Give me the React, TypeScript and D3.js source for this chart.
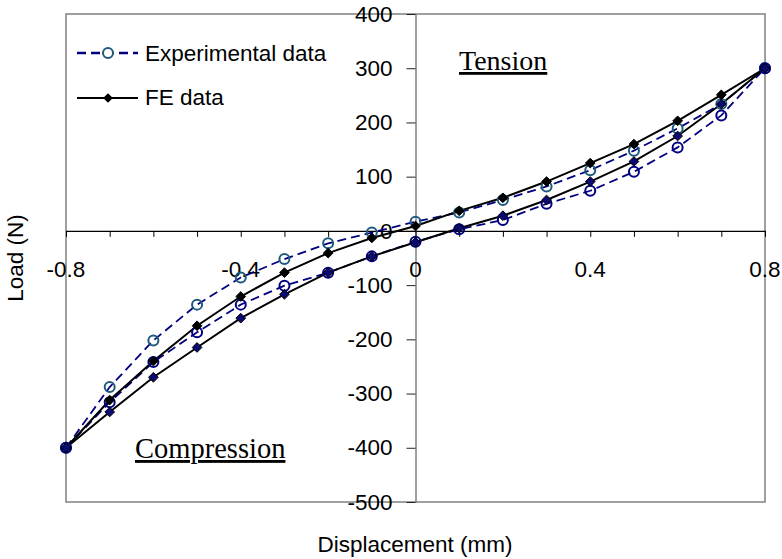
import * as d3 from "d3";
import React, { useRef, useEffect } from "react";

const W = 782;
const H = 559;

// displacement steps (mm)
const disp = [-0.8, -0.7, -0.6, -0.5, -0.4, -0.3, -0.2, -0.1, 0, 0.1, 0.2, 0.3, 0.4, 0.5, 0.6, 0.7, 0.8];

// experimental loop: lower (loading) and upper (unloading) branch, load in N
const expLower = [-400, -316, -242, -187, -136, -101, -77, -47, -20, 3, 20, 50, 74, 109, 154, 213, 300];
const expUpper = [-400, -288, -202, -136, -86, -52, -23, -3, 17, 34, 57, 82, 112, 148, 189, 234, 300];

// FE loop
const feLower = [-400, -334, -270, -215, -161, -117, -77, -47, -21, 5, 28, 57, 91, 128, 175, 234, 300];
const feUpper = [-400, -312, -240, -175, -121, -77, -41, -13, 9, 37, 61, 91, 125, 160, 203, 251, 300];

const xTickLabels = ["-0.8", "-0.4", "0", "0.4", "0.8"];
const yTicks = [-500, -400, -300, -200, -100, 0, 100, 200, 300, 400];

const sans = "'Liberation Sans', Arial, sans-serif";
const serif = "'Liberation Serif', 'Times New Roman', serif";

const navy = "#000080";
const teal = "#1d5a7c";

function App() {
  const ref = useRef(null);

  useEffect(() => {
    const svg = d3.select(ref.current);
    svg.selectAll("*").remove();

    const x = d3.scaleLinear().domain([-0.8, 0.8]).range([66, 765]);
    const y = d3.scaleLinear().domain([-500, 400]).range([502, 14]);

    // plot frame
    svg
      .append("rect")
      .attr("x", x(-0.8))
      .attr("y", y(400))
      .attr("width", x(0.8) - x(-0.8))
      .attr("height", y(-500) - y(400))
      .attr("fill", "none")
      .attr("stroke", "#808080")
      .attr("stroke-width", 1.5);

    // y axis through x = 0
    const yAxis = svg
      .append("g")
      .attr("transform", `translate(${x(0)},0)`)
      .call(
        d3
          .axisLeft(y)
          .tickValues(yTicks)
          .tickSize(9)
          .tickSizeOuter(0)
          .tickPadding(14)
          .tickFormat((d) => String(d))
      );
    yAxis.select(".domain").attr("stroke", "#808080").attr("stroke-width", 1.5);
    yAxis.selectAll("line").attr("stroke", "#222");
    yAxis.selectAll("text").style("font-family", sans).style("font-size", "22.5px").attr("fill", "#000");

    // x axis through y = 0
    const xAxis = svg
      .append("g")
      .attr("transform", `translate(0,${y(0)})`)
      .call(d3.axisBottom(x).tickValues(disp).tickSize(6).tickSizeOuter(0).tickFormat(() => ""));
    xAxis.select(".domain").attr("stroke", "#000").attr("stroke-width", 1.2);
    xAxis.selectAll("line").attr("stroke", "#000");

    svg
      .selectAll(".xlab")
      .data(xTickLabels)
      .enter()
      .append("text")
      .attr("x", (d) => x(+d))
      .attr("y", 277)
      .attr("text-anchor", "middle")
      .style("font-family", sans)
      .style("font-size", "22.5px")
      .text((d) => d);

    const pts = (vals) => disp.map((d, i) => [d, vals[i]]);
    const line = d3
      .line()
      .x((d) => x(d[0]))
      .y((d) => y(d[1]));
    const diamond = d3.symbol(d3.symbolDiamond2 || d3.symbolDiamond, 60);

    const series = [
      { vals: expUpper, dashed: true, marker: "circle", color: teal },
      { vals: expLower, dashed: true, marker: "circle", color: navy },
      { vals: feUpper, dashed: false, marker: "diamond", color: "#000" },
      { vals: feLower, dashed: false, marker: "diamond", color: "#0a0a70" },
    ];

    series.forEach((s) => {
      svg
        .append("path")
        .attr("d", line(pts(s.vals)))
        .attr("fill", "none")
        .attr("stroke", s.dashed ? navy : "#000")
        .attr("stroke-width", s.dashed ? 1.8 : 2)
        .attr("stroke-dasharray", s.dashed ? "9,5" : null);
    });

    series.forEach((s) => {
      const g = svg.append("g");
      if (s.marker === "circle") {
        g.selectAll("circle")
          .data(pts(s.vals))
          .enter()
          .append("circle")
          .attr("cx", (d) => x(d[0]))
          .attr("cy", (d) => y(d[1]))
          .attr("r", 5)
          .attr("fill", "none")
          .attr("stroke", s.color)
          .attr("stroke-width", 2);
      } else {
        g.selectAll("path")
          .data(pts(s.vals))
          .enter()
          .append("path")
          .attr("d", diamond)
          .attr("transform", (d) => `translate(${x(d[0])},${y(d[1])})`)
          .attr("fill", s.color)
          .attr("stroke", "#000")
          .attr("stroke-width", 1);
      }
    });

    // legend
    const leg = svg.append("g");
    leg
      .append("line")
      .attr("x1", 77)
      .attr("x2", 138)
      .attr("y1", 53)
      .attr("y2", 53)
      .attr("stroke", navy)
      .attr("stroke-width", 2.5)
      .attr("stroke-dasharray", "9,5");
    leg
      .append("circle")
      .attr("cx", 108)
      .attr("cy", 53)
      .attr("r", 5)
      .attr("fill", "#fff")
      .attr("stroke", teal)
      .attr("stroke-width", 2);
    leg
      .append("text")
      .attr("x", 145)
      .attr("y", 61)
      .style("font-family", sans)
      .style("font-size", "22.5px")
      .text("Experimental data");
    leg
      .append("line")
      .attr("x1", 77)
      .attr("x2", 138)
      .attr("y1", 98)
      .attr("y2", 98)
      .attr("stroke", "#000")
      .attr("stroke-width", 2);
    leg
      .append("path")
      .attr("d", diamond)
      .attr("transform", "translate(108,98)")
      .attr("fill", "#000");
    leg
      .append("text")
      .attr("x", 145)
      .attr("y", 105)
      .style("font-family", sans)
      .style("font-size", "22.5px")
      .text("FE data");

    // region annotations
    svg
      .append("text")
      .attr("x", 459)
      .attr("y", 70)
      .style("font-family", serif)
      .style("font-size", "28px")
      .style("text-decoration", "underline")
      .text("Tension");
    svg
      .append("text")
      .attr("x", 135)
      .attr("y", 458)
      .style("font-family", serif)
      .style("font-size", "28.5px")
      .style("text-decoration", "underline")
      .text("Compression");

    // axis titles
    svg
      .append("text")
      .attr("x", 415)
      .attr("y", 552)
      .attr("text-anchor", "middle")
      .style("font-family", sans)
      .style("font-size", "22.5px")
      .text("Displacement (mm)");
    svg
      .append("text")
      .attr("transform", "translate(23,258) rotate(-90)")
      .attr("text-anchor", "middle")
      .style("font-family", sans)
      .style("font-size", "22.5px")
      .text("Load (N)");
  }, []);

  return (
    <div style={{ position: "absolute", left: 0, top: 0 }}>
      <svg ref={ref} width={W} height={H} style={{ display: "block", background: "#fff" }}></svg>
    </div>
  );
}

export default App;
